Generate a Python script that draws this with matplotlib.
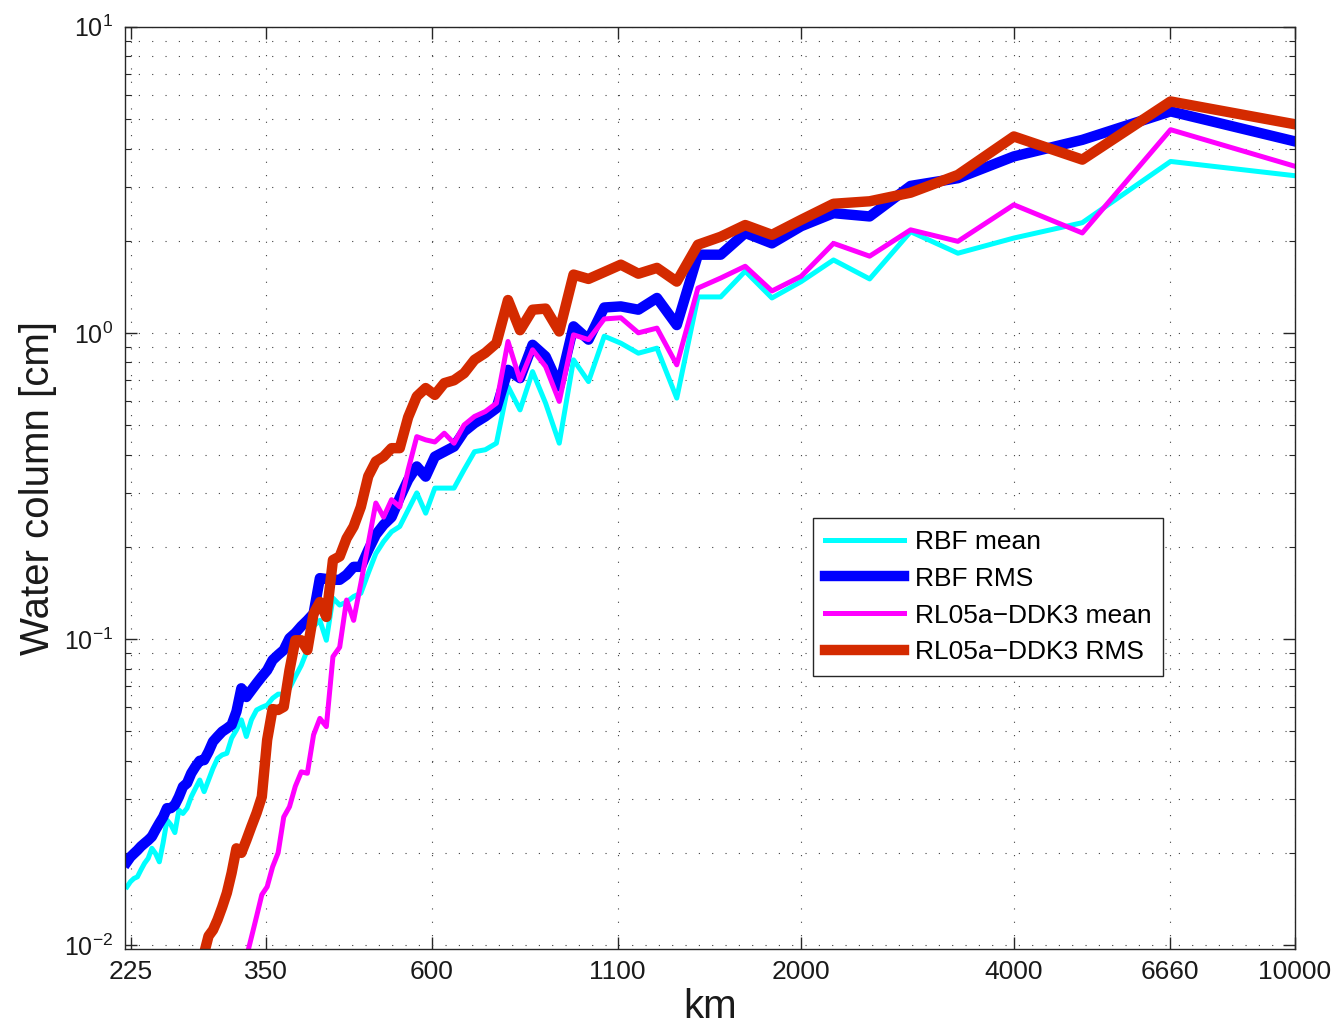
import numpy as np
import matplotlib
matplotlib.use('Agg')
import matplotlib.pyplot as plt
from matplotlib.ticker import FixedLocator, FixedFormatter, LogLocator, NullLocator, NullFormatter

plt.rcParams['font.family'] = ['Liberation Sans', 'DejaVu Sans']
plt.rcParams['mathtext.fontset'] = 'custom'
plt.rcParams['mathtext.rm'] = 'Liberation Sans'
plt.rcParams['mathtext.it'] = 'Liberation Sans:italic'

# spherical harmonic degree -> half wavelength in km
degree = np.arange(2, 91)
km = 20000.0 / degree

rbf_mean = [3.26, 3.63, 2.29, 2.04, 1.82, 2.14, 1.50, 1.73, 1.47, 1.30,
            1.59, 1.31, 1.31, 0.612, 0.891, 0.858, 0.925, 0.975, 0.693, 0.816,
            0.436, 0.589, 0.747, 0.56, 0.668, 0.436, 0.415, 0.409, 0.357, 0.311,
            0.311, 0.311, 0.2575, 0.30, 0.264, 0.233, 0.224, 0.208, 0.19, 0.164,
            0.141, 0.1376, 0.132, 0.129, 0.136, 0.099, 0.115, 0.11, 0.092, 0.082,
            0.0753, 0.069, 0.066, 0.066, 0.064, 0.0608, 0.0598, 0.0586, 0.0544, 0.048,
            0.0544, 0.0504, 0.0474, 0.0423, 0.0418, 0.0407, 0.0378, 0.0346, 0.0317, 0.0346,
            0.0325, 0.0305, 0.028, 0.0269, 0.0276, 0.0233, 0.0247, 0.0256, 0.0216, 0.0187,
            0.0199, 0.0207, 0.0192, 0.0185, 0.0176, 0.0167, 0.0165, 0.0161, 0.0155]

rbf_rms = [4.22, 5.29, 4.27, 3.77, 3.20, 3.02, 2.40, 2.46, 2.23, 1.96,
           2.12, 1.80, 1.80, 1.06, 1.30, 1.19, 1.22, 1.21, 0.95, 1.05,
           0.668, 0.837, 0.914, 0.711, 0.757, 0.567, 0.533, 0.507, 0.476, 0.425,
           0.409, 0.394, 0.339, 0.366, 0.331, 0.289, 0.25, 0.236, 0.219, 0.195,
           0.172, 0.172, 0.162, 0.156, 0.156, 0.157, 0.158, 0.121, 0.115, 0.11,
           0.1045, 0.1005, 0.092, 0.0887, 0.0853, 0.079, 0.0753, 0.0716, 0.068, 0.0646,
           0.069, 0.0579, 0.0524, 0.051, 0.0498, 0.048, 0.0462, 0.0428, 0.0402, 0.040,
           0.0383, 0.0364, 0.0338, 0.0329, 0.0305, 0.0287, 0.028, 0.028, 0.0262, 0.025,
           0.0238, 0.0226, 0.022, 0.0215, 0.021, 0.0204, 0.0199, 0.0194, 0.0187]

ddk3_mean = [3.50, 4.61, 2.12, 2.62, 1.99, 2.17, 1.78, 1.96, 1.53, 1.37,
             1.65, 1.51, 1.40, 0.786, 1.036, 1.0, 1.12, 1.11, 0.95, 0.985,
             0.597, 0.776, 0.88, 0.70, 0.937, 0.589, 0.553, 0.533, 0.50, 0.436,
             0.47, 0.44, 0.447, 0.458, 0.357, 0.27, 0.285, 0.25, 0.278, 0.205,
             0.152, 0.115, 0.134, 0.094, 0.0875, 0.0517, 0.055, 0.0486, 0.0364, 0.0368,
             0.033, 0.0283, 0.0262, 0.020, 0.018, 0.0155, 0.0146, 0.0124, 0.0106, 0.0091,
             0.008]

ddk3_rms = [4.8, 5.70, 3.68, 4.38, 3.28, 2.87, 2.69, 2.64, 2.34, 2.09,
            2.25, 2.06, 1.94, 1.47, 1.63, 1.56, 1.67, 1.58, 1.50, 1.55,
            1.01, 1.20, 1.19, 1.02, 1.28, 0.925, 0.86, 0.816, 0.738, 0.70,
            0.685, 0.627, 0.66, 0.62, 0.53, 0.42, 0.42, 0.394, 0.38, 0.34,
            0.27, 0.233, 0.213, 0.186, 0.181, 0.118, 0.132, 0.121, 0.092, 0.099,
            0.099, 0.079, 0.060, 0.0586, 0.059, 0.0468, 0.0305, 0.027, 0.0244, 0.022,
            0.020, 0.0207, 0.0172, 0.0148, 0.0133, 0.0121, 0.0112, 0.0107, 0.0094, 0.0085]

xticks = [225, 350, 600, 1100, 2000, 4000, 6660, 10000]
xticklabels = ['225', '350', '600', '1100', '2000', '4000', '6660', '10000']

fig = plt.figure(figsize=(13.36, 10.28), dpi=100)
ax = fig.add_axes([0.0938, 0.0773, 0.8755, 0.8967])

ax.plot(km, rbf_mean, color='#00ffff', lw=3.6, label='RBF mean')
ax.plot(km, rbf_rms, color='#0000ff', lw=7.5, label='RBF RMS')
ax.plot(km[:len(ddk3_mean)], ddk3_mean, color='#ff00ff', lw=3.6, label='RL05a\u2212DDK3 mean')
ax.plot(km[:len(ddk3_rms)], ddk3_rms, color='#d42a00', lw=7.5, label='RL05a\u2212DDK3 RMS')

ax.set_xscale('log')
ax.set_yscale('log')
ax.set_xlim(221, 10000)
ax.set_ylim(0.00974, 10)

ax.xaxis.set_major_locator(FixedLocator(xticks))
ax.xaxis.set_major_formatter(FixedFormatter(xticklabels))
ax.xaxis.set_minor_locator(NullLocator())
ax.xaxis.set_minor_formatter(NullFormatter())
ax.yaxis.set_major_locator(LogLocator(base=10, numticks=10))
ax.yaxis.set_minor_locator(LogLocator(base=10, subs=np.arange(2, 10), numticks=20))
ax.yaxis.set_minor_formatter(NullFormatter())

dots = (0, (1, 11))
ax.grid(True, which='major', axis='both', linestyle=dots, color='0.25', lw=0.8)
ax.grid(True, which='minor', axis='y', linestyle=dots, color='0.25', lw=0.8)
ax.set_axisbelow(True)

ax.tick_params(which='both', direction='in', top=True, right=True, colors='0.15',
               labelcolor='0.1')
ax.tick_params(which='major', length=8.5, width=1.0)
ax.tick_params(which='minor', length=4.5, width=0.8)
ax.tick_params(axis='x', which='major', labelsize=19, pad=8)
ax.tick_params(axis='y', which='major', labelsize=18, pad=9)
for s in ax.spines.values():
    s.set_color('0.15')
    s.set_linewidth(1.0)

ax.set_xlabel('km', fontsize=29, color='0.1')
ax.set_ylabel('Water column [cm]', fontsize=29, color='0.1')
ax.xaxis.set_label_coords(0.5, -0.043)
ax.yaxis.set_label_coords(-0.058, 0.5)

leg = ax.legend(loc='upper left', bbox_to_anchor=(0.588, 0.467), borderaxespad=0,
                fontsize=19, fancybox=False, framealpha=1, edgecolor='0.15',
                handlelength=3.0, handletextpad=0.4, labelspacing=0.485, borderpad=0.45)
leg.get_frame().set_linewidth(1.0)

fig.savefig('out.png', dpi=100)
